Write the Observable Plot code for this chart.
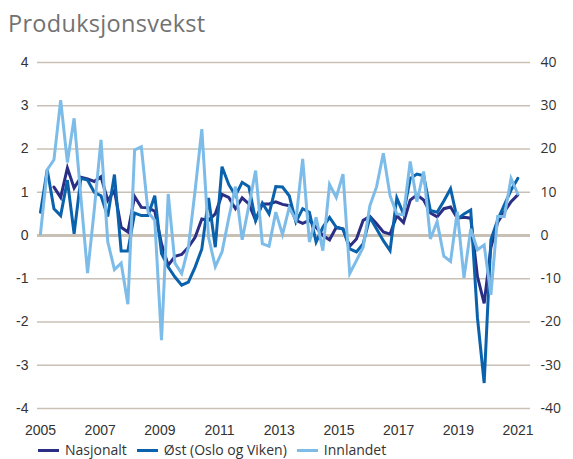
<!DOCTYPE html>
<html>
<head>
<meta charset="utf-8">
<script src="https://cdn.jsdelivr.net/npm/d3@7"></script>
<script src="https://cdn.jsdelivr.net/npm/@observablehq/plot@0.6"></script>
<style>
  html, body { margin: 0; padding: 0; background: #fff; }
  #wrap { position: relative; width: 573px; height: 459px; overflow: hidden; }
  #title { position: absolute; left: 8px; top: 7px; font-family: "Open Sans", sans-serif; font-size: 23.5px; color: #727272; letter-spacing: 0.3px; }
  #chart { position: absolute; left: 0; top: 0; }
  #legend { position: absolute; left: 38px; top: 442px; font-family: "Open Sans", sans-serif; font-size: 14px; color: #333; display: flex; align-items: center; line-height: 16px; white-space: nowrap; }
  .item { display: flex; align-items: center; margin-right: 10px; }
  .sw { display: inline-block; width: 21px; height: 3px; margin-right: 6px; }
</style>
</head>
<body>
<div id="wrap">
  <div id="title">Produksjonsvekst</div>
  <div id="chart"></div>
  <div id="legend"></div>
</div>
<script>
// Period index (survey rounds), 2005 .. 2021
const periods = d3.range(72);
const xTickYears = [2005, 2007, 2009, 2011, 2013, 2015, 2017, 2019, 2021];
const roundsPerYear = 4.44;
const yTicks = [-4, -3, -2, -1, 0, 1, 2, 3, 4];

const seriesNames = ["Nasjonalt", "Øst (Oslo og Viken)", "Innlandet"];
const seriesColors = ["#2b2e85", "#0b62ac", "#7dbce8"];

// left axis (percent)
const nasjonalt = [null, null,
  1.12, 0.88, 1.56, 1.10, 1.35, 1.31, 1.25, 1.36, 0.81, 1.04, 0.19, 0.08, 0.90, 0.65, 0.64, 0.56,
  -0.19, -0.69, -0.48, -0.44, -0.27, -0.04, 0.38, 0.35, 0.50, 0.95, 0.88, 0.62, 0.87, 0.73, 0.35, 0.73,
  0.73, 0.78, 0.72, 0.69, 0.35, 0.28, 0.35, 0.19, 0.00, -0.10, 0.19, 0.15, -0.25, -0.08, 0.35, 0.44,
  0.27, 0.08, 0.03, 0.46, 0.30, 0.82, 0.94, 0.82, 0.52, 0.43, 0.62, 0.66, 0.40, 0.42, 0.40, -0.95,
  -1.57, -0.28, 0.30, 0.55, 0.78, 0.94];

// left axis (percent)
const ost = [
  0.54, 1.52, 0.62, 0.46, 1.28, 0.04, 1.32, 1.28, 1.00, 0.92, 0.44, 1.41, -0.36, -0.36, 0.52, 0.46,
  0.46, 0.92, -0.42, -0.73, -0.96, -1.15, -1.08, -0.73, -0.31, 0.87, -0.27, 1.59, 1.18, 0.92, 1.23, 1.13,
  0.35, 0.75, 0.50, 1.13, 1.12, 0.92, 0.31, 0.62, 0.54, -0.15, 0.19, 0.42, 0.19, 0.15, -0.31, -0.38,
  -0.19, 0.42, 0.15, -0.12, -0.35, 0.87, 0.50, 1.32, 1.42, 1.38, 0.58, 0.54, 0.80, 1.08, 0.38, 0.50,
  0.59, -1.90, -3.41, -0.10, 0.36, 0.71, 1.05, 1.32];

// right axis (percent)
const innlandet = [
  0.4, 15.2, 17.5, 31.3, 16.9, 27.1, 9.0, -8.7, 6.0, 22.1, -1.4, -7.9, -6.4, -15.9, 19.8, 20.5,
  5.4, 3.5, -24.2, 9.6, -6.4, -8.8, -2.7, 10.4, 24.6, -0.4, -7.2, -3.8, 4.0, 11.3, -1.0, 6.9,
  15.0, -1.9, -2.5, 5.4, 0.2, 6.5, 3.5, 17.7, -1.5, 4.2, -3.5, 11.8, 8.8, 14.2, -8.8, -5.8,
  -2.7, 6.9, 11.3, 19.0, 9.2, 5.0, 4.8, 17.1, 7.8, 14.8, -0.8, 3.2, -4.8, -6.0, 5.5, -9.8,
  1.5, -3.3, -2.2, -13.7, 4.4, 4.4, 13.2, 9.6];

const rightScaleFactor = 10; // right axis = 10 x left axis

const rows = [];
periods.forEach((p, i) => {
  rows.push({p, series: seriesNames[0], y: nasjonalt[i]});
  rows.push({p, series: seriesNames[1], y: ost[i]});
  rows.push({p, series: seriesNames[2], y: innlandet[i] == null ? null : innlandet[i] / rightScaleFactor});
});

const tickPos = xTickYears.map(y => (y - 2005) * roundsPerYear);

const gridColor = "#c9c0b5";
const chart = Plot.plot({
  width: 573,
  height: 459,
  marginTop: 62,
  marginBottom: 51,
  marginLeft: 37,
  marginRight: 43,
  style: {fontFamily: "Liberation Sans, Arial, sans-serif", fontSize: "14px", color: "#333", background: "transparent"},
  x: {domain: [0, 72], insetLeft: 3, insetRight: 6},
  y: {domain: [-4, 4]},
  color: {domain: seriesNames, range: seriesColors},
  marks: [
    Plot.ruleY(yTicks.filter(d => d !== 0), {stroke: gridColor, strokeWidth: 1.6}),
    Plot.ruleY([0], {stroke: gridColor, strokeWidth: 3}),
    ...seriesNames.map(name => Plot.line(rows.filter(r => r.series === name), {
      x: "p", y: "y", stroke: "series", strokeWidth: 3, strokeLinejoin: "miter", strokeMiterlimit: 4
    })),
    Plot.axisY(yTicks, {anchor: "left", tickSize: 0, tickPadding: 9, tickFormat: d => String(d), label: null, fill: "#333"}),
    Plot.axisY(yTicks, {anchor: "right", tickSize: 0, tickPadding: 10, tickFormat: d => String(d * rightScaleFactor), label: null, fontFamily: "Open Sans, sans-serif", fill: "#333"}),
    Plot.axisX(tickPos, {anchor: "bottom", tickSize: 0, tickPadding: 17, tickFormat: (d, i) => String(xTickYears[i]), label: null, fill: "#333"})
  ]
});
document.getElementById("chart").appendChild(chart);

const legend = document.getElementById("legend");
seriesNames.forEach((n, i) => {
  const it = document.createElement("div");
  it.className = "item";
  it.innerHTML = `<span class="sw" style="background:${seriesColors[i]}"></span><span>${n}</span>`;
  legend.appendChild(it);
});
</script>
</body>
</html>
